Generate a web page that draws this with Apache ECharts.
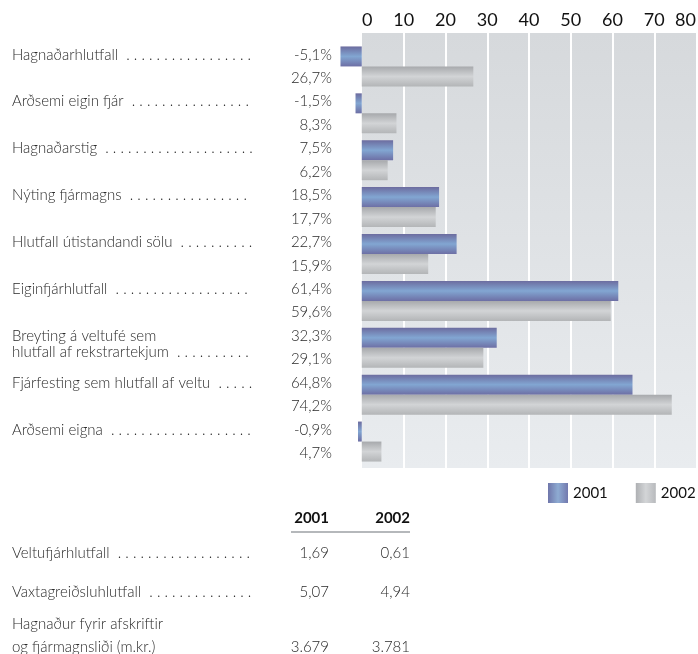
<!DOCTYPE html>
<html>
<head>
<meta charset="utf-8">
<script src="https://cdn.jsdelivr.net/npm/echarts@6/dist/echarts.min.js"></script>
<style>
  html, body { margin: 0; padding: 0; background: #fff; }
  #chart { width: 698px; height: 654px; }
</style>
</head>
<body>
<div id="chart"></div>
<script>
// gögn
const categories = ['Hagnaðarhlutfall', 'Arðsemi eigin fjár', 'Hagnaðarstig', 'Nýting fjármagns',
  'Hlutfall útistandandi sölu', 'Eiginfjárhlutfall', 'Breyting á veltufé sem\nhlutfall af rekstrartekjum',
  'Fjárfesting sem hlutfall af veltu', 'Arðsemi eigna']
const values2001 = [-5.1, -1.5, 7.5, 18.5, 22.7, 61.4, 32.3, 64.8, -0.9]
const values2002 = [26.7, 8.3, 6.2, 17.7, 15.9, 59.6, 29.1, 74.2, 4.7]
const seriesNames = ['2001', '2002']

const tableLabels = ['Veltufjárhlutfall', 'Vaxtagreiðsluhlutfall', 'Hagnaður fyrir afskriftir\nog fjármagnsliði (m.kr.)']
const tableLeaders = [true, true, false]
const table2001 = [1.69, 5.07, 3679]
const table2002 = [0.61, 4.94, 3781]

const FONT = 'Lato'
const TXT = '#2a2a2a'

// punktalína á eftir texta
const ctx = document.createElement('canvas').getContext('2d')
ctx.font = '300 15px ' + FONT
const withLeader = (text, width) => {
   const lines = text.split('\n')
   const last = lines.pop()
   let dots = ''
   while (ctx.measureText(last + ' ' + dots + ' .').width <= width) dots += ' .'
   return lines.concat(last + ' ' + dots).join('\n')
}

const pct = v => v.toFixed(1).replace('.', ',') + '%'
const fmt = v => Number.isInteger(v)
   ? String(v).replace(/\B(?=(\d{3})+(?!\d))/g, '.')
   : v.toFixed(2).replace('.', ',')

// 18 línur, tvær fyrir hvern flokk
const nameRows = []
const valueRows = []
categories.forEach((c, i) => {
   const t = withLeader(c, 241)
   nameRows.push(t.indexOf('\n') >= 0 ? '\n' + t : t)
   nameRows.push('')
   valueRows.push(pct(values2001[i]))
   valueRows.push(pct(values2002[i]))
})

const grad = (a, b, c) => new echarts.graphic.LinearGradient(0, 0, 0, 1, [
   { offset: 0, color: a }, { offset: 0.5, color: b }, { offset: 1, color: c }])
const hgrad = (a, b, c) => new echarts.graphic.LinearGradient(0, 0, 1, 0, [
   { offset: 0, color: a }, { offset: 0.5, color: b }, { offset: 1, color: c }])

const colors2001 = ['#6c6c9f', '#82a6d2', '#6d6fa5']
const colors2002 = ['#a7a9ac', '#d2d4d6', '#b3b5b7']

// tafla neðst
const tableY = [553, 592, 647]
const LH = 22.7
const table = []
table.push({ type: 'text', x: 329, y: 518, style: { text: '2001', font: 'bold 15px ' + FONT, fill: '#111', align: 'right', verticalAlign: 'middle' } })
table.push({ type: 'text', x: 410, y: 518, style: { text: '2002', font: 'bold 15px ' + FONT, fill: '#111', align: 'right', verticalAlign: 'middle' } })
table.push({ type: 'line', shape: { x1: 291, y1: 532, x2: 410, y2: 532 }, style: { stroke: '#b5b8bb', lineWidth: 2 } })
tableLabels.forEach((l, i) => {
   const t = tableLeaders[i] ? withLeader(l, 241) : l
   const n = t.split('\n').length
   table.push({ type: 'text', x: 12, y: tableY[i] - (n - 1) * LH / 2, style: { text: t, font: '300 15px ' + FONT, fill: TXT, lineHeight: LH, verticalAlign: 'middle' } })
   table.push({ type: 'text', x: 329, y: tableY[i], style: { text: fmt(table2001[i]), font: '300 15px ' + FONT, fill: TXT, align: 'right', verticalAlign: 'middle' } })
   table.push({ type: 'text', x: 410, y: tableY[i], style: { text: fmt(table2002[i]), font: '300 15px ' + FONT, fill: TXT, align: 'right', verticalAlign: 'middle' } })
})

const chart = echarts.init(document.getElementById('chart'))

const option = {
   animation: false,
   textStyle: { fontFamily: FONT },
   grid: [
      {
         left: 362, right: 2, top: 33, bottom: 186, show: true, borderWidth: 0, outerBoundsMode: 'none',
         backgroundColor: new echarts.graphic.LinearGradient(0, 0, 0, 1, [
            { offset: 0, color: '#d6d9dc' }, { offset: 1, color: '#e9ecef' }])
      },
      { left: 320, right: 2, top: 43, bottom: 189, outerBoundsMode: 'none' }
   ],
   xAxis: [
      {
         gridIndex: 0, type: 'value', position: 'top', min: 0, max: 80, interval: 10,
         axisLine: { show: false }, axisTick: { show: false },
         axisLabel: { fontSize: 18, color: '#111', margin: 4, fontFamily: FONT, alignMinLabel: 'left', alignMaxLabel: 'right' },
         splitLine: { show: true, showMinLine: false, showMaxLine: false, lineStyle: { color: '#ffffff', width: 2 } }
      },
      { gridIndex: 1, type: 'value', min: -10, max: 80, show: false }
   ],
   yAxis: [
      { gridIndex: 0, type: 'value', show: false },
      { gridIndex: 1, type: 'category', position: 'left', inverse: true, data: categories, show: false },
      {
         gridIndex: 1, type: 'category', position: 'left', inverse: true, data: nameRows.map((r, i) => i),
         axisLine: { show: false }, axisTick: { show: false }, splitLine: { show: false },
         axisLabel: {
            interval: 0, align: 'left', margin: 308, fontSize: 15, fontWeight: 300, lineHeight: 16.6,
            color: TXT, formatter: (v, i) => nameRows[i]
         }
      },
      {
         gridIndex: 1, type: 'category', position: 'left', inverse: true, data: valueRows.map((r, i) => i),
         axisLine: { show: false }, axisTick: { show: false }, splitLine: { show: false },
         axisLabel: {
            interval: 0, align: 'right', margin: -12, fontSize: 15, fontWeight: 300,
            color: TXT, formatter: (v, i) => valueRows[i]
         }
      }
   ],
   legend: {
      left: 548, top: 483, itemWidth: 20, itemHeight: 20, itemGap: 28, padding: 0,
      textStyle: { fontSize: 15, color: '#111', fontFamily: FONT },
      data: [
         { name: '2001', icon: 'rect', itemStyle: { color: hgrad('#6f76aa', '#8eabd2', '#7279ae') } },
         { name: '2002', icon: 'rect', itemStyle: { color: hgrad('#aeb0b3', '#d3d5d7', '#b8babd') } }
      ]
   },
   series: [
      {
         name: seriesNames[0], type: 'bar', xAxisIndex: 1, yAxisIndex: 1,
         barWidth: 20, barGap: '0%', data: values2001,
         itemStyle: { color: grad(...colors2001) }
      },
      {
         name: seriesNames[1], type: 'bar', xAxisIndex: 1, yAxisIndex: 1,
         barWidth: 20, barGap: '0%', data: values2002,
         itemStyle: { color: grad(...colors2002) }
      }
   ],
   graphic: table
}

chart.setOption(option)
</script>
</body>
</html>
